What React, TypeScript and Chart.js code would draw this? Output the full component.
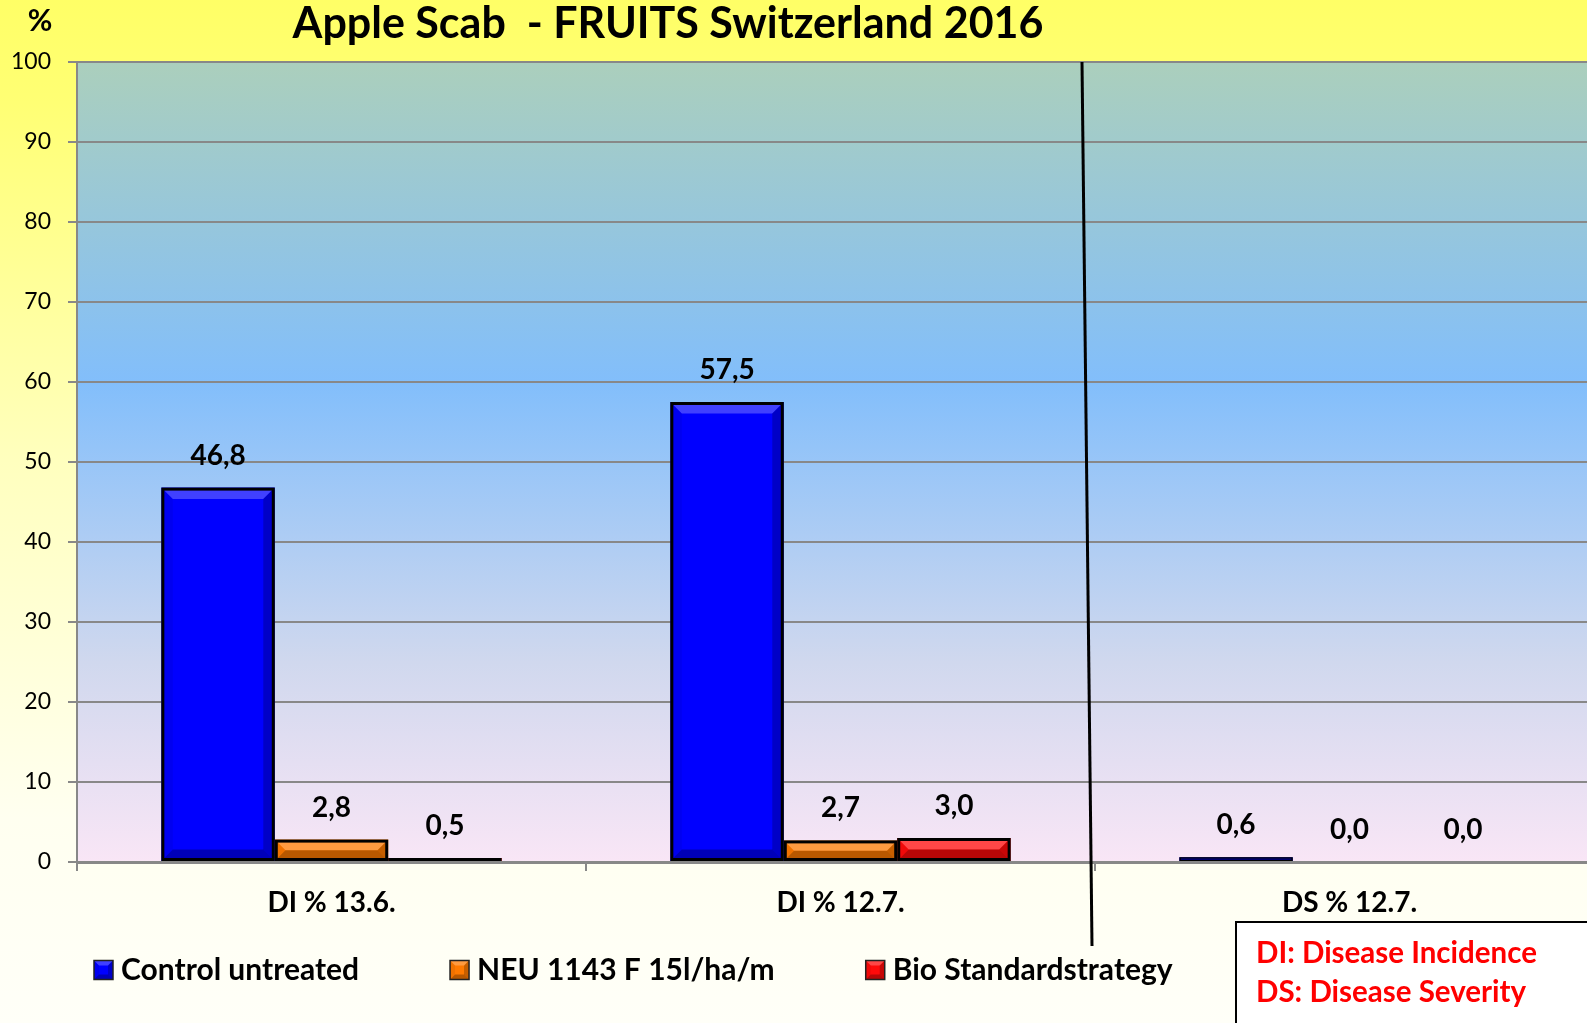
import React, { useEffect, useRef } from "react";
import { Chart, registerables } from "chart.js";

Chart.register(...registerables);

const categories = ["DI % 13.6.", "DI % 12.7.", "DS % 12.7."];
const seriesNames = ["Control untreated", "NEU 1143 F 15l/ha/m", "Bio Standardstrategy"];
const controlUntreated = [46.8, 57.5, 0.6];
const neu1143 = [2.8, 2.7, 0.0];
const bioStandard = [0.5, 3.0, 0.0];
const seriesColors = ["#0000ff", "#ff7a00", "#ff0a0a"];
const titleText = "Apple Scab  - FRUITS Switzerland 2016";
const yUnit = "%";
const notes = ["DI: Disease Incidence", "DS: Disease Severity"];

const FONT = "Lato, 'Open Sans', sans-serif";

function bevel(ctx: CanvasRenderingContext2D, l: number, t: number, r: number, b: number, size: number) {
  const h = b - t;
  const w = r - l;
  const s = Math.max(0, Math.min(size, h / 2, w / 2));
  if (s <= 0) return;
  ctx.save();
  const poly = (pts: number[][], fill: string) => {
    ctx.beginPath();
    ctx.moveTo(pts[0][0], pts[0][1]);
    for (let i = 1; i < pts.length; i++) ctx.lineTo(pts[i][0], pts[i][1]);
    ctx.closePath();
    ctx.fillStyle = fill;
    ctx.fill();
  };
  poly([[l, t], [r, t], [r - s, t + s], [l + s, t + s]], "rgba(255,255,255,0.25)");
  poly([[l, b], [r, b], [r - s, b - s], [l + s, b - s]], "rgba(0,0,0,0.28)");
  poly([[l, t], [l + s, t + s], [l + s, b - s], [l, b]], "rgba(0,0,0,0.06)");
  poly([[r, t], [r - s, t + s], [r - s, b - s], [r, b]], "rgba(0,0,0,0.22)");
  ctx.restore();
}

const decorPlugin = {
  id: "decor",
  beforeDraw(chart: any) {
    const { ctx, width, height, chartArea } = chart;
    ctx.save();
    const g = ctx.createLinearGradient(0, 0, 0, height);
    g.addColorStop(0, "#ffff66");
    g.addColorStop(0.1, "#ffff74");
    g.addColorStop(0.45, "#ffffbe");
    g.addColorStop(0.8, "#fffff0");
    g.addColorStop(1, "#fffff8");
    ctx.fillStyle = g;
    ctx.fillRect(0, 0, width, height);
    const pg = ctx.createLinearGradient(0, chartArea.top, 0, chartArea.bottom);
    pg.addColorStop(0, "#abcfbc");
    pg.addColorStop(0.4, "#82befb");
    pg.addColorStop(0.75, "#d0d8ee");
    pg.addColorStop(1, "#f9e6f6");
    ctx.fillStyle = pg;
    ctx.fillRect(chartArea.left, chartArea.top, chartArea.right - chartArea.left, chartArea.bottom - chartArea.top);
    ctx.restore();
  },
  afterDatasetsDraw(chart: any) {
    const { ctx } = chart;
    ctx.save();
    chart.data.datasets.forEach((ds: any, di: number) => {
      const meta = chart.getDatasetMeta(di);
      meta.data.forEach((el: any, i: number) => {
        const v = ds.data[i];
        const l = el.x - el.width / 2;
        const r = el.x + el.width / 2;
        const t = Math.min(el.y, el.base);
        const b = Math.max(el.y, el.base);
        if (b - t > 1) {
          bevel(ctx, l + 1.5, t + 1.5, r - 1.5, b - 1.5, 10);
          ctx.strokeStyle = "#000";
          ctx.lineWidth = b - t > 6 ? 3 : 1.5;
          const lw = ctx.lineWidth / 2;
          ctx.strokeRect(l + lw, t + lw, r - l - 2 * lw, b - t - 2 * lw);
        }
        ctx.fillStyle = "#000";
        ctx.font = `bold 28px ${FONT}`;
        ctx.textAlign = "center";
        ctx.textBaseline = "middle";
        ctx.fillText(v.toFixed(1).replace(".", ","), el.x, el.y - 32);
      });
    });
    ctx.restore();
  },
  afterDraw(chart: any) {
    const { ctx, chartArea } = chart;
    const xs = chart.scales.x;
    ctx.save();
    // title
    ctx.fillStyle = "#000";
    ctx.font = `bold 43px ${FONT}`;
    ctx.textAlign = "center";
    ctx.textBaseline = "middle";
    ctx.fillText(titleText, 668, 24);
    ctx.font = `bold 30px ${FONT}`;
    ctx.fillText(yUnit, 40, 21);

    // separator line
    const boundary = xs.getPixelForValue(1.5);
    ctx.beginPath();
    ctx.moveTo(boundary - 13, chartArea.top);
    ctx.lineTo(boundary - 3, 946);
    ctx.strokeStyle = "#000";
    ctx.lineWidth = 3;
    ctx.stroke();

    // legend
    ctx.font = `bold 30px ${FONT}`;
    ctx.textAlign = "left";
    let x = 94;
    const ly = 970;
    chart.data.datasets.forEach((ds: any) => {
      const sz = 19;
      ctx.fillStyle = ds.backgroundColor;
      ctx.fillRect(x, ly - sz / 2, sz, sz);
      bevel(ctx, x, ly - sz / 2, x + sz, ly + sz / 2, 5);
      ctx.strokeStyle = "#222";
      ctx.lineWidth = 1.5;
      ctx.strokeRect(x, ly - sz / 2, sz, sz);
      ctx.fillStyle = "#000";
      ctx.fillText(ds.label, x + 27, ly);
      x = x + 27 + ctx.measureText(ds.label).width + 91;
    });

    // note box
    ctx.fillStyle = "#ffffff";
    ctx.fillRect(1236, 922, 500, 200);
    ctx.strokeStyle = "#000";
    ctx.lineWidth = 2;
    ctx.strokeRect(1236, 922, 500, 200);
    ctx.fillStyle = "#ff0000";
    ctx.font = `bold 29.5px ${FONT}`;
    ctx.fillText(notes[0], 1256, 953);
    ctx.fillText(notes[1], 1256, 992);
    ctx.restore();
  },
};

export default function App() {
  const ref = useRef<HTMLCanvasElement | null>(null);
  useEffect(() => {
    document.body.style.margin = "0";
    document.body.style.overflow = "hidden";
    document.documentElement.style.overflow = "hidden";
    const canvas = ref.current;
    if (!canvas) return;
    const values = [controlUntreated, neu1143, bioStandard];
    const chart = new Chart(canvas, {
      type: "bar",
      data: {
        labels: categories,
        datasets: seriesNames.map((name, i) => ({
          label: name,
          data: values[i],
          backgroundColor: seriesColors[i],
          borderWidth: 0,
          categoryPercentage: 0.6686,
          barPercentage: 1,
        })),
      },
      options: {
        responsive: false,
        animation: false,
        layout: { padding: { left: 0, right: 16, top: 62, bottom: 0 } },
        plugins: {
          legend: { display: false },
          title: { display: false },
          tooltip: { enabled: false },
        },
        scales: {
          x: {
            grid: {
              drawOnChartArea: false,
              drawTicks: true,
              tickLength: 9,
              color: "#888",
              lineWidth: 2,
            },
            border: { color: "#888", width: 3 },
            ticks: {
              color: "#000",
              font: { family: FONT, size: 28, weight: "bold" },
              padding: 15,
            },
            afterFit: (s: any) => {
              s.height = 161;
            },
          },
          y: {
            min: 0,
            max: 100,
            ticks: {
              stepSize: 10,
              color: "#000",
              font: { family: FONT, size: 23 },
              padding: 17,
            },
            grid: { color: "#888", lineWidth: 2, tickLength: 9 },
            border: { color: "#888", width: 2 },
            afterFit: (s: any) => {
              s.width = 77;
            },
          },
        },
      },
      plugins: [decorPlugin],
    });
    return () => chart.destroy();
  }, []);
  return (
    <div style={{ width: 1620, height: 1023, position: "relative" }}>
      <canvas ref={ref} width={1620} height={1023} style={{ display: "block" }} />
    </div>
  );
}
